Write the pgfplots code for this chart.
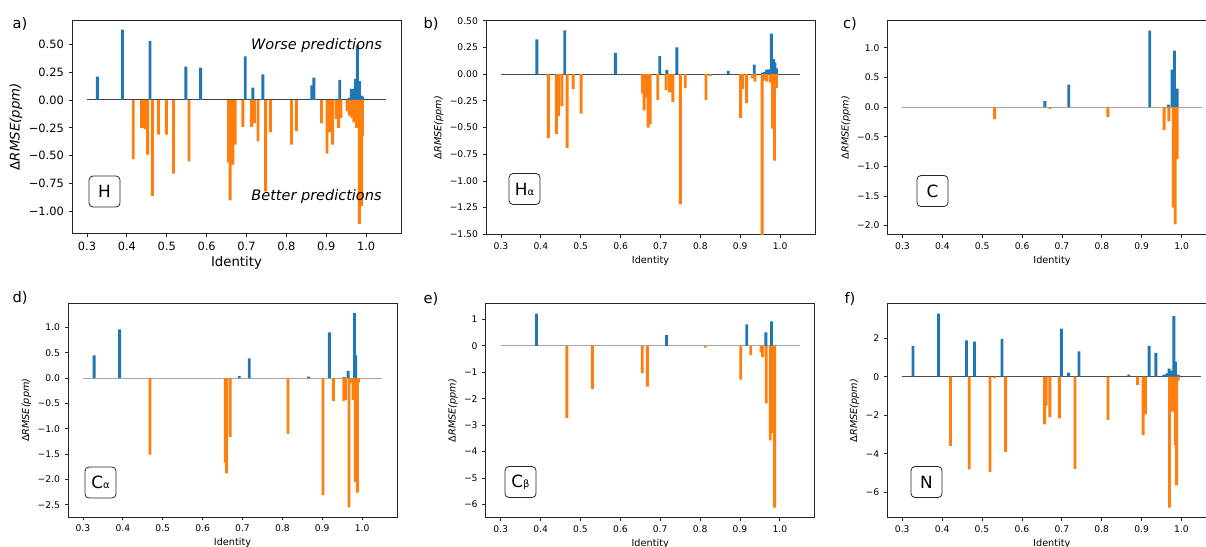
\documentclass[border=0pt]{standalone}
\usepackage{fontspec}
\setmainfont{DejaVu Sans}
\usepackage{pgfplots}
\pgfplotsset{compat=1.18}
\definecolor{cblue}{HTML}{1F77B4}
\definecolor{corange}{HTML}{FF7F0E}
\pgfplotsset{
  panel/.style={
    width=246.75bp, height=160.125bp, scale only axis,
    xmin=0.2625, xmax=1.0875,
    xtick={0.3,0.4,0.5,0.6,0.7,0.8,0.9,1.0},
    xticklabels={0.3,0.4,0.5,0.6,0.7,0.8,0.9,1.0},
    tick pos=left, tick align=outside, major tick length=2.6bp,
    axis line style={black!85, line width=0.6bp},
    tick style={black!85, line width=0.6bp},
    xlabel={Identity},
    ylabel={{\upshape Δ}{\itshape RMSE(ppm)}},
    tick label style={font=\fontsize{6.9}{8}\selectfont},
    label style={font=\fontsize{7.3}{8.5}\selectfont},
    xlabel style={yshift=2bp},
    ylabel style={yshift=-2bp},
  },
  pos/.style={ybar, bar width=0.0072, bar shift=0pt, fill=cblue, draw=none},
  neg/.style={ybar, bar width=0.0072, bar shift=0pt, fill=corange, draw=none},
  zl/.style={line width=0.75bp, forget plot},
}
\tikzset{
  lbox/.style={draw=black!85, line width=0.6bp, rounded corners=3bp, minimum width=23.25bp, minimum height=23.25bp, inner sep=0pt, font=\fontsize{12.7}{14}\selectfont},
  plabel/.style={font=\fontsize{11}{13}\selectfont},
}
\begin{document}
\begin{tikzpicture}[x=0.75bp, y=-0.75bp]
\path (0,0) rectangle (1206,546);
\begin{scope}[overlay]
% ---------------- a) H
\begin{axis}[panel, at={(54bp,-175.125bp)}, anchor=south west,
  ymin=-1.197, ymax=0.717,
  ytick={-1,-0.75,-0.5,-0.25,0,0.25,0.5},
  yticklabels={−1.00,−0.75,−0.50,−0.25,0.00,0.25,0.50},
  tick label style={font=\fontsize{8.6}{10}\selectfont},
  label style={font=\fontsize{10}{12}\selectfont}]
\addplot[zl, black!75] coordinates {(0.3,0) (1.05,0)};
\addplot[pos] coordinates {(0.326,0.21) (0.389,0.63) (0.458,0.53) (0.548,0.30) (0.585,0.29) (0.697,0.39) (0.716,0.11) (0.741,0.23) (0.864,0.13) (0.869,0.20) (0.934,0.18) (0.957,0.02) (0.963,0.10) (0.968,0.10) (0.973,0.19) (0.978,0.49) (0.983,0.17) (0.988,0.04) (0.991,0.03)};
\addplot[neg] coordinates {(0.416,-0.53) (0.437,-0.25) (0.442,-0.25) (0.446,-0.26) (0.452,-0.49) (0.464,-0.86) (0.479,-0.31) (0.499,-0.31) (0.517,-0.66) (0.556,-0.55) (0.655,-0.56) (0.659,-0.90) (0.666,-0.58) (0.672,-0.40) (0.691,-0.24) (0.713,-0.24) (0.720,-0.21) (0.729,-0.37) (0.748,-0.82) (0.760,-0.29) (0.813,-0.40) (0.825,-0.28) (0.888,-0.21) (0.902,-0.48) (0.908,-0.29) (0.916,-0.40) (0.925,-0.17) (0.931,-0.25) (0.937,-0.16) (0.952,-0.10) (0.958,-0.14) (0.964,-0.16) (0.969,-0.20) (0.976,-0.25) (0.983,-1.11) (0.989,-0.95) (0.991,-0.32)};
\end{axis}
% ---------------- b) Halpha
\begin{axis}[panel, at={(364.5bp,-175.725bp)}, anchor=south west,
  ymin=-1.5, ymax=0.5,
  ytick={-1.5,-1.25,-1,-0.75,-0.5,-0.25,0,0.25,0.5},
  yticklabels={−1.50,−1.25,−1.00,−0.75,−0.50,−0.25,0.00,0.25,0.50}]
\addplot[zl, black!70] coordinates {(0.3,0) (1.05,0)};
\addplot[pos] coordinates {(0.390,0.325) (0.460,0.41) (0.587,0.20) (0.698,0.17) (0.716,0.04) (0.741,0.25) (0.870,0.03) (0.935,0.09) (0.956,0.015) (0.961,0.02) (0.966,0.04) (0.971,0.045) (0.978,0.38) (0.983,0.14) (0.987,0.11) (0.991,0.055)};
\addplot[neg] coordinates {(0.419,-0.60) (0.439,-0.56) (0.445,-0.39) (0.453,-0.30) (0.466,-0.69) (0.481,-0.14) (0.501,-0.37) (0.655,-0.18) (0.659,-0.34) (0.663,-0.22) (0.669,-0.50) (0.674,-0.47) (0.693,-0.24) (0.714,-0.15) (0.723,-0.17) (0.731,-0.26) (0.750,-1.22) (0.762,-0.13) (0.814,-0.24) (0.825,-0.015) (0.901,-0.41) (0.906,-0.14) (0.916,-0.27) (0.930,-0.04) (0.937,-0.07) (0.955,-1.70) (0.962,-0.06) (0.967,-0.07) (0.976,-0.08) (0.981,-0.51) (0.986,-0.81) (0.991,-0.13)};
\end{axis}
% ---------------- c) C
\begin{axis}[panel, at={(665.625bp,-175.725bp)}, anchor=south west,
  ymin=-2.146, ymax=1.454,
  ytick={-2,-1.5,-1,-0.5,0,0.5,1},
  yticklabels={−2.0,−1.5,−1.0,−0.5,0.0,0.5,1.0}]
\addplot[zl, black!35] coordinates {(0.3,0) (1.05,0)};
\addplot[pos] coordinates {(0.657,0.10) (0.717,0.38) (0.920,1.29) (0.967,0.04) (0.976,0.63) (0.982,0.95) (0.989,0.31)};
\addplot[neg] coordinates {(0.531,-0.20) (0.670,-0.03) (0.815,-0.17) (0.930,-0.01) (0.956,-0.39) (0.968,-0.24) (0.979,-1.69) (0.984,-1.98) (0.989,-0.88)};
\end{axis}
% ---------------- d) Calpha
\begin{axis}[panel, at={(51bp,-387.75bp)}, anchor=south west,
  ymin=-2.7415, ymax=1.4715,
  ytick={-2.5,-2,-1.5,-1,-0.5,0,0.5,1},
  yticklabels={−2.5,−2.0,−1.5,−1.0,−0.5,0.0,0.5,1.0}]
\addplot[zl, black!35] coordinates {(0.3,0) (1.05,0)};
\addplot[pos] coordinates {(0.328,0.45) (0.392,0.96) (0.692,0.04) (0.717,0.39) (0.866,0.03) (0.918,0.90) (0.955,0.02) (0.965,0.14) (0.981,1.28) (0.984,0.45)};
\addplot[neg] coordinates {(0.468,-1.51) (0.657,-1.67) (0.660,-1.88) (0.669,-1.16) (0.814,-1.10) (0.902,-2.31) (0.928,-0.45) (0.954,-0.45) (0.958,-0.43) (0.967,-2.55) (0.972,-0.10) (0.977,-0.43) (0.983,-2.05) (0.988,-2.26) (0.991,-0.09)};
\end{axis}
% ---------------- e) Cbeta
\begin{axis}[panel, at={(364.275bp,-387.975bp)}, anchor=south west,
  ymin=-6.487, ymax=1.587,
  ytick={-6,-5,-4,-3,-2,-1,0,1},
  yticklabels={−6,−5,−4,−3,−2,−1,0,1}]
\addplot[zl, black!35] coordinates {(0.3,0) (1.05,0)};
\addplot[pos] coordinates {(0.390,1.22) (0.716,0.40) (0.917,0.81) (0.965,0.51) (0.979,0.92)};
\addplot[neg] coordinates {(0.466,-2.74) (0.530,-1.63) (0.655,-1.03) (0.668,-1.54) (0.813,-0.07) (0.902,-1.28) (0.927,-0.35) (0.953,-0.25) (0.957,-0.43) (0.966,-2.18) (0.976,-3.58) (0.981,-1.68) (0.983,-3.30) (0.987,-6.12)};
\end{axis}
% ---------------- f) N
\begin{axis}[panel, at={(665.475bp,-387.975bp)}, anchor=south west,
  ymin=-7.304, ymax=3.784,
  ytick={-6,-4,-2,0,2},
  yticklabels={−6,−4,−2,0,2}]
\addplot[zl, black!70] coordinates {(0.3,0) (1.05,0)};
\addplot[pos] coordinates {(0.327,1.60) (0.391,3.28) (0.461,1.88) (0.481,1.82) (0.550,1.96) (0.699,2.50) (0.717,0.21) (0.743,1.32) (0.868,0.10) (0.919,1.60) (0.936,1.23) (0.956,0.10) (0.964,0.17) (0.969,0.42) (0.975,0.31) (0.981,3.14) (0.985,0.78) (0.989,0.10) (0.993,0.08)};
\addplot[neg] coordinates {(0.421,-3.59) (0.468,-4.81) (0.520,-4.95) (0.531,-0.08) (0.559,-3.91) (0.657,-2.48) (0.661,-1.51) (0.670,-2.10) (0.694,-2.17) (0.733,-4.79) (0.816,-2.24) (0.890,-0.43) (0.904,-3.04) (0.910,-1.96) (0.970,-6.80) (0.975,-1.13) (0.978,-1.82) (0.985,-3.56) (0.988,-5.64) (0.992,-0.20)};
\end{axis}
% annotations
\node[font=\fontsize{10.9}{13}\selectfont\itshape] at (316.5,45.5) {Worse predictions};
\node[font=\fontsize{10.9}{13}\selectfont\itshape] at (316.5,196.5) {Better predictions};
\node[lbox] at (104.5,191.5) {H};
\node[lbox] at (524.5,189) {H{\fontsize{7.5}{8}\selectfont α}};
\node[lbox] at (932.5,191) {C};
\node[lbox] at (100.5,482.5) {C{\fontsize{7.5}{8}\selectfont α}};
\node[lbox] at (520.5,482) {C{\fontsize{7.5}{8}\selectfont β}};
\node[lbox] at (926.5,482) {N};
\node[plabel] at (20,24) {a)};
\node[plabel] at (431,24) {b)};
\node[plabel] at (850,24) {c)};
\node[plabel] at (20,298) {d)};
\node[plabel] at (431,299) {e)};
\node[plabel] at (850,299) {f)};
\end{scope}
\end{tikzpicture}
\end{document}
